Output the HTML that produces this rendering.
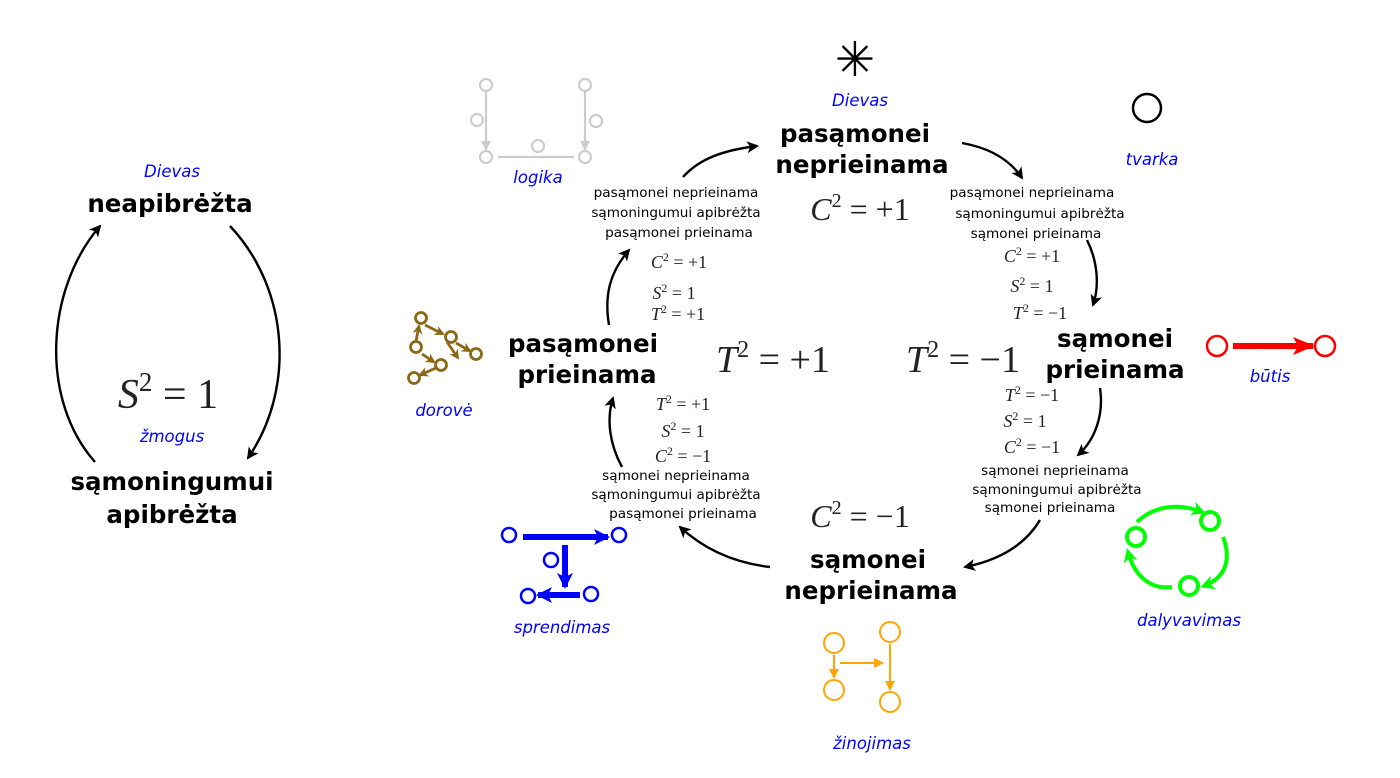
<!DOCTYPE html>
<html><head><meta charset="utf-8"><style>
body{margin:0;background:#fff}
svg{display:block}
.b{font-family:"DejaVu Sans","Liberation Sans",sans-serif;font-weight:bold;font-size:24.5px;fill:#000;text-anchor:middle}
.i{font-family:"DejaVu Sans","Liberation Sans",sans-serif;font-style:italic;font-size:16.5px;fill:#00f;text-anchor:middle}
.s{font-family:"DejaVu Sans","Liberation Sans",sans-serif;font-size:13.6px;fill:#000;text-anchor:middle}
.m{font-family:"Liberation Serif",serif;fill:#222;text-anchor:middle}
.a{fill:none;stroke:#000;stroke-width:2.4}
</style></head><body>
<svg width="1400" height="778" viewBox="0 0 1400 778">
<defs>
<marker id="ar" markerWidth="12" markerHeight="12" refX="10" refY="6" orient="auto" markerUnits="userSpaceOnUse"><path d="M0,0 L12,6 L0,12 L3,6z" fill="#000"/></marker>
<marker id="ag" markerWidth="10" markerHeight="10" refX="9" refY="5" orient="auto" markerUnits="userSpaceOnUse"><path d="M0,0 L10,5 L0,10z" fill="#ccc"/></marker>
<marker id="ab" markerWidth="16" markerHeight="16" refX="14" refY="8" orient="auto" markerUnits="userSpaceOnUse"><path d="M0,0 L16,8 L0,16 L4,8z" fill="#00f"/></marker>
<marker id="ao" markerWidth="10" markerHeight="10" refX="9" refY="5" orient="auto" markerUnits="userSpaceOnUse"><path d="M0,0 L10,5 L0,10z" fill="#ffa500"/></marker>
<marker id="agr" markerWidth="14" markerHeight="14" refX="10" refY="7" orient="auto" markerUnits="userSpaceOnUse"><path d="M0,0 L14,7 L0,14 L4,7z" fill="#0f0"/></marker>
<marker id="abr" markerWidth="10" markerHeight="10" refX="8" refY="5" orient="auto" markerUnits="userSpaceOnUse"><path d="M0,0 L10,5 L0,10 L3,5z" fill="#8b6914"/></marker>
<marker id="arr" markerWidth="22" markerHeight="18" refX="20" refY="9" orient="auto" markerUnits="userSpaceOnUse"><path d="M0,0 L22,9 L0,18 L5,9z" fill="#f00"/></marker>
</defs>

<!-- left diagram -->
<text class="i" x="172" y="177">Dievas</text>
<text class="b" x="170" y="212">neapibrėžta</text>
<text class="m" x="168" y="408" font-size="42" font-style="italic">S<tspan font-size="27" dy="-17" font-style="normal">2</tspan><tspan dy="17" font-style="normal"> = 1</tspan></text>
<text class="i" x="172" y="442">žmogus</text>
<text class="b" x="172" y="490">sąmoningumui</text>
<text class="b" x="172" y="523">apibrėžta</text>
<path class="a" d="M95,462 C40,400 45,290 100,226" marker-end="url(#ar)"/>
<path class="a" d="M230,226 C290,290 295,390 248,458" marker-end="url(#ar)"/>

<!-- top -->
<text x="855" y="76" text-anchor="middle" font-size="48" font-family="DejaVu Sans">✳</text>
<text class="i" x="860" y="106">Dievas</text>
<text class="b" x="855" y="142">pasąmonei</text>
<text class="b" x="862" y="173">neprieinama</text>
<text class="m" x="860" y="220" font-size="32" font-style="italic">C<tspan font-size="20" dy="-13" font-style="normal">2</tspan><tspan dy="13" font-style="normal"> = +1</tspan></text>
<circle cx="1147" cy="108" r="14" fill="none" stroke="#000" stroke-width="2.5"/>
<text class="i" x="1152" y="165">tvarka</text>

<!-- logika -->
<g stroke="#ccc" stroke-width="2.2" fill="none">
<circle cx="486" cy="85" r="6"/><circle cx="477" cy="120" r="6"/><circle cx="486" cy="157" r="6"/>
<circle cx="585" cy="85" r="6"/><circle cx="596" cy="121" r="6"/><circle cx="585" cy="157" r="6"/>
<circle cx="538" cy="146" r="6"/>
<path d="M486,91 V150" marker-end="url(#ag)"/><path d="M585,91 V150" marker-end="url(#ag)"/>
<path d="M498,157 H574"/>
</g>
<text class="i" x="538" y="183">logika</text>

<!-- middle -->
<text class="b" x="583" y="352">pasąmonei</text>
<text class="b" x="587" y="383">prieinama</text>
<text class="m" x="773" y="372" font-size="38" font-style="italic">T<tspan font-size="24" dy="-15" font-style="normal">2</tspan><tspan dy="15" font-style="normal"> = +1</tspan></text>
<text class="m" x="963" y="372" font-size="38" font-style="italic">T<tspan font-size="24" dy="-15" font-style="normal">2</tspan><tspan dy="15" font-style="normal"> = −1</tspan></text>
<text class="b" x="1115" y="347">sąmonei</text>
<text class="b" x="1115" y="378">prieinama</text>

<!-- bottom -->
<text class="m" x="860" y="527" font-size="32" font-style="italic">C<tspan font-size="20" dy="-13" font-style="normal">2</tspan><tspan dy="13" font-style="normal"> = −1</tspan></text>
<text class="b" x="868" y="568">sąmonei</text>
<text class="b" x="871" y="599">neprieinama</text>

<!-- small texts -->
<text class="s" x="676" y="197">pasąmonei neprieinama</text>
<text class="s" x="676" y="217">sąmoningumui apibrėžta</text>
<text class="s" x="679" y="237">pasąmonei prieinama</text>
<g class="m" font-size="18" font-style="italic">
<text x="679" y="268">C<tspan font-size="12" dy="-7" font-style="normal">2</tspan><tspan dy="7" font-style="normal"> = +1</tspan></text>
<text x="674" y="299">S<tspan font-size="12" dy="-7" font-style="normal">2</tspan><tspan dy="7" font-style="normal"> = 1</tspan></text>
<text x="678" y="320">T<tspan font-size="12" dy="-7" font-style="normal">2</tspan><tspan dy="7" font-style="normal"> = +1</tspan></text>
<text x="1032" y="262">C<tspan font-size="12" dy="-7" font-style="normal">2</tspan><tspan dy="7" font-style="normal"> = +1</tspan></text>
<text x="1032" y="292">S<tspan font-size="12" dy="-7" font-style="normal">2</tspan><tspan dy="7" font-style="normal"> = 1</tspan></text>
<text x="1040" y="319">T<tspan font-size="12" dy="-7" font-style="normal">2</tspan><tspan dy="7" font-style="normal"> = −1</tspan></text>
<text x="1032" y="401">T<tspan font-size="12" dy="-7" font-style="normal">2</tspan><tspan dy="7" font-style="normal"> = −1</tspan></text>
<text x="1025" y="427">S<tspan font-size="12" dy="-7" font-style="normal">2</tspan><tspan dy="7" font-style="normal"> = 1</tspan></text>
<text x="1032" y="453">C<tspan font-size="12" dy="-7" font-style="normal">2</tspan><tspan dy="7" font-style="normal"> = −1</tspan></text>
<text x="683" y="410">T<tspan font-size="12" dy="-7" font-style="normal">2</tspan><tspan dy="7" font-style="normal"> = +1</tspan></text>
<text x="683" y="437">S<tspan font-size="12" dy="-7" font-style="normal">2</tspan><tspan dy="7" font-style="normal"> = 1</tspan></text>
<text x="683" y="462">C<tspan font-size="12" dy="-7" font-style="normal">2</tspan><tspan dy="7" font-style="normal"> = −1</tspan></text>
</g>
<text class="s" x="1032" y="197">pasąmonei neprieinama</text>
<text class="s" x="1040" y="218">sąmoningumui apibrėžta</text>
<text class="s" x="1036" y="238">sąmonei prieinama</text>
<text class="s" x="1055" y="475">sąmonei neprieinama</text>
<text class="s" x="1057" y="494">sąmoningumui apibrėžta</text>
<text class="s" x="1050" y="512">sąmonei prieinama</text>
<text class="s" x="676" y="480">sąmonei neprieinama</text>
<text class="s" x="676" y="499">sąmoningumui apibrėžta</text>
<text class="s" x="683" y="518">pasąmonei prieinama</text>

<!-- cycle arrows -->
<path class="a" d="M683,177 C700,158 725,150 757,146" marker-end="url(#ar)"/>
<path class="a" d="M962,143 C990,148 1010,160 1022,178" marker-end="url(#ar)"/>
<path class="a" d="M1087,240 C1097,260 1100,285 1093,305" marker-end="url(#ar)"/>
<path class="a" d="M1100,388 C1104,415 1095,440 1078,455" marker-end="url(#ar)"/>
<path class="a" d="M1040,520 C1025,545 1000,560 965,567" marker-end="url(#ar)"/>
<path class="a" d="M770,567 C735,563 705,550 680,527" marker-end="url(#ar)"/>
<path class="a" d="M622,467 C610,445 606,420 613,398" marker-end="url(#ar)"/>
<path class="a" d="M609,325 C604,295 610,272 629,250" marker-end="url(#ar)"/>

<!-- dorove -->
<g stroke="#8b6914" stroke-width="2.8" fill="none">
<circle cx="421" cy="318" r="5.5"/><circle cx="451" cy="337" r="5.5"/><circle cx="476" cy="354" r="5.5"/>
<circle cx="416" cy="347" r="5.5"/><circle cx="441" cy="365" r="5.5"/><circle cx="414" cy="378" r="5.5"/>
<path d="M425,325 L443,334" marker-end="url(#abr)"/>
<path d="M456,343 L470,351" marker-end="url(#abr)"/>
<path d="M436,368 L420,375" marker-end="url(#abr)"/>
<path d="M416,341 L419,326" marker-end="url(#abr)"/>
<path d="M422,354 L434,362" marker-end="url(#abr)"/>
<path d="M447,342 L458,358" marker-end="url(#abr)"/>
</g>
<text class="i" x="444" y="416">dorovė</text>

<!-- butis -->
<g stroke="#f00" fill="none" stroke-width="2.5">
<circle cx="1217" cy="346" r="10"/><circle cx="1325" cy="346" r="10"/>
<path d="M1233,346 H1313" stroke-width="6" marker-end="url(#arr)"/>
</g>
<text class="i" x="1270" y="382">būtis</text>

<!-- sprendimas -->
<g stroke="#00f" fill="none" stroke-width="2.5">
<circle cx="509" cy="535" r="7"/><circle cx="619" cy="535" r="7"/><circle cx="551" cy="560" r="7"/>
<circle cx="528" cy="596" r="7"/><circle cx="591" cy="594" r="7"/>
<path d="M523,537 H608" stroke-width="6" marker-end="url(#ab)"/>
<path d="M565,545 V587" stroke-width="6" marker-end="url(#ab)"/>
<path d="M580,595 H538" stroke-width="6" marker-end="url(#ab)"/>
</g>
<text class="i" x="562" y="633">sprendimas</text>

<!-- zinojimas -->
<g stroke="#ffa500" fill="none" stroke-width="2">
<circle cx="834" cy="643" r="10"/><circle cx="890" cy="632" r="10"/>
<circle cx="834" cy="690" r="10"/><circle cx="890" cy="702" r="10"/>
<path d="M834,655 V678" marker-end="url(#ao)"/>
<path d="M840,663 H883" marker-end="url(#ao)"/>
<path d="M890,644 V690" marker-end="url(#ao)"/>
</g>
<text class="i" x="872" y="749">žinojimas</text>

<!-- dalyvavimas -->
<g stroke="#0f0" fill="none" stroke-width="4">
<circle cx="1136" cy="537" r="9"/><circle cx="1210" cy="521" r="9"/><circle cx="1189" cy="586" r="9"/>
<path d="M1137,522 C1155,505 1180,503 1202,512" marker-end="url(#agr)"/>
<path d="M1223,537 C1232,560 1225,578 1204,586" marker-end="url(#agr)"/>
<path d="M1172,587 C1150,590 1134,575 1128,552" marker-end="url(#agr)"/>
</g>
<text class="i" x="1189" y="626">dalyvavimas</text>
</svg>
</body></html>
